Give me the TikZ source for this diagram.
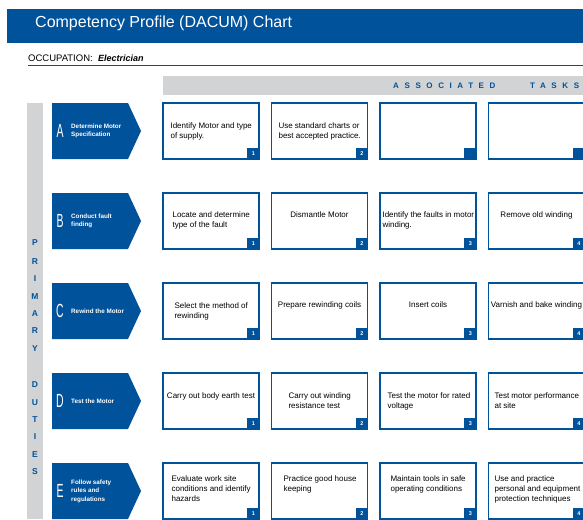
\documentclass[tikz,border=0pt]{standalone}
\usepackage{fontspec}
\setmainfont{Liberation Sans}
\usetikzlibrary{positioning}
\definecolor{dacumblue}{RGB}{0,82,155}
\definecolor{dacumgray}{RGB}{209,211,212}
\tikzset{
  taskbox/.style={draw=dacumblue, line width=1.3pt, fill=white, minimum width=96pt, minimum height=56pt, inner sep=0pt},
  tasktext/.style={inner sep=0pt, font=\fontsize{8}{10}\selectfont, align=left},
  badge/.style={fill=dacumblue, text=white, minimum width=12pt, minimum height=11pt, inner sep=0pt, font=\fontsize{5.5}{6}\selectfont\bfseries},
  dutyletter/.style={text=white, inner sep=0pt, font=\fontsize{19}{19}\selectfont},
  dutytext/.style={text=white, inner sep=0pt, font=\fontsize{6.3}{8.6}\selectfont\bfseries, align=left},
  sideletter/.style={text=dacumblue, inner sep=0pt, font=\fontsize{8.5}{9}\selectfont\bfseries},
}
\begin{document}
\begin{tikzpicture}[x=1pt, y=-1pt]
\def \xleft  {0}
\def \xright {583}
\def \ytop   {0}
\def \ybot   {519}
\path [use as bounding box, clip] (\xleft, \ytop) rectangle (\xright, \ybot);
\fill [white] (\xleft, \ytop) rectangle (\xright, \ybot);

% title
\fill [dacumblue] (7, 9) rectangle (\xright, 43);
\node [anchor=base west, inner sep=0pt, text=white, font=\fontsize{16}{16}\selectfont] (title) at (35, 28) {Competency Profile (DACUM) Chart};

% occupation
\node [anchor=base west, inner sep=0pt, font=\fontsize{9.5}{10}\selectfont] (occ) at (28, 61) {OCCUPATION:};
\node [base right=5pt of occ, inner sep=0pt, font=\fontsize{9}{10}\selectfont\bfseries\itshape] (occval) {Electrician};
\draw [black!75, line width=0.9pt] (28, 65) -- (\xright, 65);

% associated tasks
\fill [dacumgray] (163, 76) rectangle (\xright, 95);
\node [anchor=base west, inner sep=0pt, text=dacumblue, font=\fontsize{8}{8}\selectfont\bfseries\addfontfeature{LetterSpace=70}] (assoc) at (393, 88) {ASSOCIATED};
\node [anchor=base west, inner sep=0pt, text=dacumblue, font=\fontsize{8}{8}\selectfont\bfseries\addfontfeature{LetterSpace=70}] (tasks) at (530, 88) {TASKS};

% primary duties
\fill [dacumgray] (27, 103) rectangle (43, \ybot);
\foreach \ch/\yy in {P/243, R/262, I/279, M/297, A/314, R/331, Y/349, D/385, U/403, T/420, I/437, E/455, S/472}
  \node [sideletter] (side\yy) at (35, \yy) {\ch};

% duties
\foreach \yc/\ltr/\txt in {131/A/{Determine Motor\\Specification}, 221/B/{Conduct fault\\finding}, 311/C/{Rewind the Motor}, 401/D/{Test the Motor}, 491/E/{Follow safety\\rules and\\regulations}} {
  \fill [dacumblue] (52, \yc-28) -- (128, \yc-28) -- (141, \yc) -- (128, \yc+28) -- (52, \yc+28) -- cycle;
  \node [dutyletter] (duty\ltr) at (60, \yc) {\scalebox{0.55}[1]{\ltr}};
  \node [dutytext, anchor=west] (txt\ltr) at (71, \yc) {\txt};
}

% task boxes
\foreach \r/\yc in {A/131, B/221, C/311, D/401, E/491}
  \foreach \c/\xc in {1/211, 2/319.5, 3/428, 4/536.5} {
    \node [taskbox] (t\r\c) at (\xc, \yc) {};
    \node [badge, anchor=south east] (n\r\c) at (t\r\c.south east) {\if\r A\ifnum\c>2 \else\c\fi\else\c\fi};
  }

% row A
\node [tasktext, anchor=north west] (xA1) at ([xshift=8pt, yshift=-20pt]tA1.north west) {Identify Motor and type\\of supply.};
\node [tasktext, anchor=north west] (xA2) at ([xshift=7.5pt, yshift=-20pt]tA2.north west) {Use standard charts or\\best accepted practice.};
% row B
\node [tasktext, anchor=north west] (xB1) at ([xshift=10pt, yshift=-19pt]tB1.north west) {Locate and determine\\type of the fault};
\node [tasktext, anchor=north] (xB2) at ([yshift=-19pt]tB2.north) {Dismantle Motor};
\node [tasktext, anchor=north west] (xB3) at ([xshift=3pt, yshift=-19pt]tB3.north west) {Identify the faults in motor\\winding.};
\node [tasktext, anchor=north] (xB4) at ([yshift=-19pt]tB4.north) {Remove old winding};
% row C
\node [tasktext, anchor=north west] (xC1) at ([xshift=12pt, yshift=-20pt]tC1.north west) {Select the method of\\rewinding};
\node [tasktext, anchor=north] (xC2) at ([yshift=-19pt]tC2.north) {Prepare rewinding coils};
\node [tasktext, anchor=north] (xC3) at ([yshift=-19pt]tC3.north) {Insert coils};
\node [tasktext, anchor=north] (xC4) at ([yshift=-19pt]tC4.north) {Varnish and bake winding};
% row D
\node [tasktext, anchor=north] (xD1) at ([yshift=-20pt]tD1.north) {Carry out body earth test};
\node [tasktext, anchor=north west] (xD2) at ([xshift=17.5pt, yshift=-20pt]tD2.north west) {Carry out winding\\resistance test};
\node [tasktext, anchor=north west] (xD3) at ([xshift=8pt, yshift=-20pt]tD3.north west) {Test the motor for rated\\voltage};
\node [tasktext, anchor=north west] (xD4) at ([xshift=6.5pt, yshift=-20pt]tD4.north west) {Test motor performance\\at site};
% row E
\node [tasktext, anchor=north west] (xE1) at ([xshift=9pt, yshift=-13pt]tE1.north west) {Evaluate work site\\conditions and identify\\hazards};
\node [tasktext, anchor=north west] (xE2) at ([xshift=12.5pt, yshift=-13pt]tE2.north west) {Practice good house\\keeping};
\node [tasktext, anchor=north west] (xE3) at ([xshift=11pt, yshift=-13pt]tE3.north west) {Maintain tools in safe\\operating conditions};
\node [tasktext, anchor=north west] (xE4) at ([xshift=6.5pt, yshift=-13pt]tE4.north west) {Use and practice\\personal and equipment\\protection techniques};

\end{tikzpicture}
\end{document}
